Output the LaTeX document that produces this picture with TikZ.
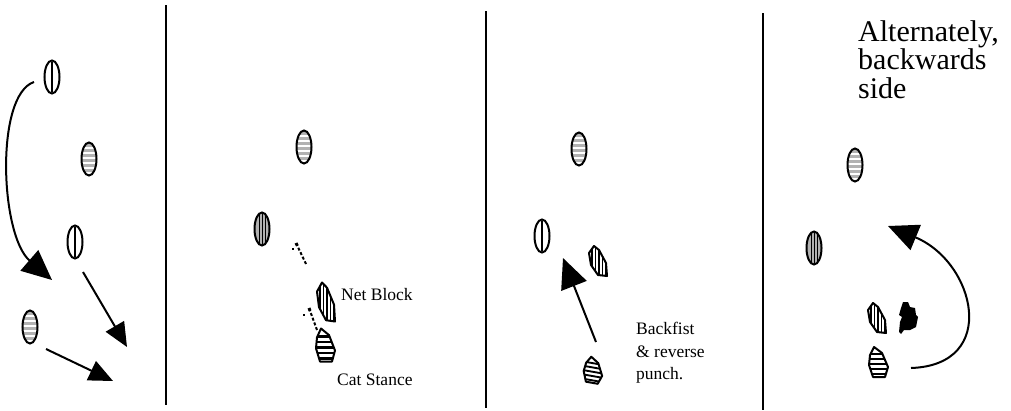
\documentclass[tikz,border=0pt]{standalone}
\usepackage{fontspec}
\setmainfont{Liberation Serif}
\usetikzlibrary{arrows.meta}
\tikzstyle{divider} = [line width=2pt]
\tikzstyle{move} = [line width=2pt, -{Triangle[length=30pt,width=27pt]}]
\tikzstyle{shortmove} = [line width=2pt, -{Triangle[length=24pt,width=21pt]}]
\tikzstyle{stepmark} = [line width=2pt, dash pattern=on 3pt off 2pt, -{Square[length=3pt,width=3pt]}]
\tikzstyle{note} = [anchor=west, inner sep=0pt, align=left, font=\fontsize{17.5}{22.5}\selectfont]
\tikzstyle{heading} = [anchor=north west, inner sep=0pt, align=left, font=\fontsize{30}{28.5}\selectfont]
\tikzset{
  ovalv/.pic={
    \fill[white] (0,0) ellipse (7.5 and 16.5);
    \draw[line width=1.8pt] (0,-15) -- (0,15);
    \draw[line width=2pt] (0,0) ellipse (7.5 and 16.5);
  },
  ovalh/.pic={
    \begin{scope}
      \clip (0,0) ellipse (7.5 and 16.5);
      \fill[gray!60] (-8,-17) rectangle (8,17);
      \foreach \s in {-12,-7,...,13} \fill[white] (-8,\s) rectangle (8,\s+1.6);
    \end{scope}
    \draw[line width=2pt] (0,0) ellipse (7.5 and 16.5);
  },
  ovalg/.pic={
    \begin{scope}
      \clip (0,0) ellipse (7.5 and 16.5);
      \fill[gray!60] (-8,-17) rectangle (8,17);
      \foreach \s in {-3,0,3} \draw[line width=0.7pt] (\s,-17) -- (\s,17);
    \end{scope}
    \draw[line width=2pt] (0,0) ellipse (7.5 and 16.5);
  },
  shoev/.pic={
    \begin{scope}
      \clip (-4,-15) -- (1,-11) -- (8,2) -- (9,15) -- (0,14) -- (-7,4) -- (-9,-8) -- cycle;
      \fill[white] (-10,-16) rectangle (10,16);
      \foreach \s in {-6,-2.5,1,4.5,8} \draw[line width=1.6pt] (\s,-16) -- (\s,16);
    \end{scope}
    \draw[line width=2pt, line join=round] (-4,-15) -- (1,-11) -- (8,2) -- (9,15) -- (0,14) -- (-7,4) -- (-9,-8) -- cycle;
  },
  shoeh/.pic={
    \begin{scope}
      \clip (-4,-15) -- (4,-9) -- (10,5) -- (7,15) -- (-5,15) -- (-9,3) -- (-8,-7) -- cycle;
      \fill[white] (-11,-16) rectangle (11,16);
      \foreach \s in {-9,-4,1,6,11} \fill (-11,\s) rectangle (11,\s+2.2);
    \end{scope}
    \draw[line width=2pt, line join=round] (-4,-15) -- (4,-9) -- (10,5) -- (7,15) -- (-5,15) -- (-9,3) -- (-8,-7) -- cycle;
  },
  blot/.pic={
    \fill (-5,-16) -- (0,-16) -- (2,-11) -- (7,-10) -- (8,-3) -- (10,-1) -- (8,9) -- (2,12)
      -- (-4,12) -- (-7,16) -- (-9,14) -- (-8,4) -- (-6,-1) -- (-9,-3) -- (-7,-10) -- cycle;
  }
}

\begin{document}
\begin{tikzpicture}[x=1pt, y=-1pt]
    \useasboundingbox (0,0) rectangle (1011,410);

    % panel dividers
    \coordinate (d1top) at (166,5);   \coordinate (d1bot) at (166,405);
    \coordinate (d2top) at (486,11);  \coordinate (d2bot) at (486,408);
    \coordinate (d3top) at (763,13);  \coordinate (d3bot) at (763,410);
    \draw[divider] (d1top) -- (d1bot);
    \draw[divider] (d2top) -- (d2bot);
    \draw[divider] (d3top) -- (d3bot);

    % panel 1
    \pic at (52,77) {ovalv};
    \pic at (89,159) {ovalh};
    \pic at (75,242) {ovalv};
    \pic at (30,327) {ovalh};
    \coordinate (a1s) at (34,82);   \coordinate (a1e) at (52,280);
    \coordinate (a2s) at (83,272);  \coordinate (a2e) at (127,347);
    \coordinate (a3s) at (46,349);  \coordinate (a3e) at (113,381);
    \draw[move] (a1s) .. controls (-5,95) and (0,235) .. (a1e);
    \draw[shortmove] (a2s) -- (a2e);
    \draw[shortmove] (a3s) -- (a3e);

    % panel 2
    \pic at (304,147) {ovalh};
    \pic at (262,229) {ovalg};
    \pic[yscale=1.3] at (326,302) {shoev};
    \pic[yscale=1.1] at (325,345) {shoeh};
    \coordinate (s1s) at (306,264); \coordinate (s1e) at (296,243);
    \coordinate (s2s) at (317,330); \coordinate (s2e) at (309,308);
    \draw[stepmark] (s1s) -- (s1e);
    \draw[stepmark] (s2s) -- (s2e);
    \fill (292,248) rectangle (294,250);
    \fill (303,314) rectangle (305,316);
    \node[note] (netblock) at (341,295) {Net Block};
    \node[note] (catstance) at (337,380) {Cat Stance};

    % panel 3
    \pic at (579,149) {ovalh};
    \pic at (542,236) {ovalv};
    \pic at (598,261) {shoev};
    \pic[rotate=-10, yscale=0.85] at (593,370) {shoeh};
    \coordinate (b1s) at (596,342); \coordinate (b1e) at (563,258);
    \draw[move] (b1s) -- (b1e);
    \node[note] (backfist) at (636,353) {Backfist\\\& reverse\\punch.};

    % panel 4
    \node[heading] (alt) at (858,20) {Alternately,\\backwards\\side};
    \pic at (855,165) {ovalh};
    \pic at (814,248) {ovalg};
    \pic at (877,318) {shoev};
    \pic at (908,318) {blot};
    \pic at (878,362) {shoeh};
    \coordinate (c1s) at (911,368); \coordinate (c1e) at (888,226);
    \draw[move] (c1s) .. controls (1000,365) and (975,262) .. (c1e);
\end{tikzpicture}
\end{document}
